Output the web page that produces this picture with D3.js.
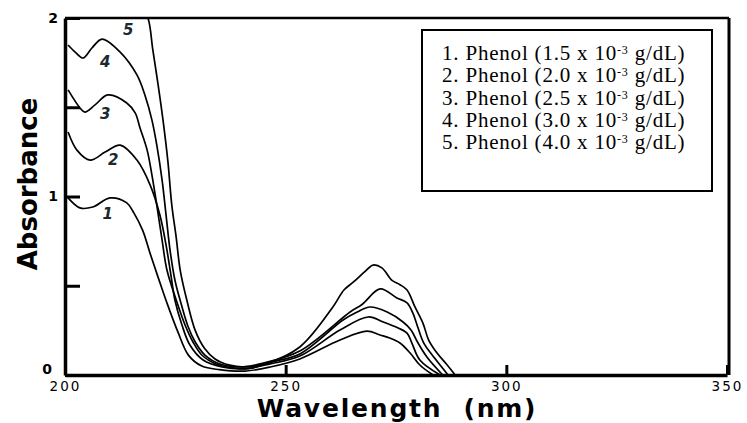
<!DOCTYPE html>
<html>
<head>
<meta charset="utf-8">
<script src="https://cdn.jsdelivr.net/npm/d3@7"></script>
<style>
  body { margin: 0; background: #fff; }
  svg { display: block; }
</style>
</head>
<body>
<svg id="chart"></svg>
<script>
// UV spectra of phenol at five concentrations
// each curve is [wavelength nm, absorbance]

const curve1 = [
  [200.7, 0.992], [203.4, 0.936], [206.3, 0.941], [210.2, 0.992], [214.0, 0.964],
  [215.6, 0.908], [217.6, 0.81], [219.3, 0.68], [221.2, 0.54], [223.3, 0.39],
  [225.6, 0.24], [228.0, 0.11], [231.0, 0.05], [235.0, 0.03], [240.8, 0.022],
  [246.5, 0.045], [253.2, 0.090], [262.3, 0.196], [268.4, 0.246], [271.4, 0.224],
  [273.6, 0.207], [275.9, 0.179], [278.2, 0.123], [280.4, 0.056], [283.4, 0]
];
const curve2 = [
  [200.7, 1.361], [202.7, 1.26], [205.7, 1.204], [209.1, 1.249], [212.5, 1.288],
  [216.3, 1.204], [219.3, 1.064], [221.5, 0.896], [222.9, 0.728], [224.0, 0.56],
  [224.9, 0.42], [226.5, 0.28], [228.3, 0.168], [231.3, 0.084], [235.6, 0.045],
  [240.3, 0.034], [246.5, 0.062], [253.2, 0.106], [262.3, 0.252], [268.7, 0.325],
  [272.1, 0.297], [275.5, 0.263], [277.5, 0.235], [278.6, 0.179], [280.4, 0.084],
  [285.0, 0]
];
const curve3 = [
  [200.7, 1.597], [203.4, 1.496], [204.5, 1.473], [206.8, 1.513], [209.7, 1.569],
  [214.0, 1.524], [215.9, 1.468], [217.0, 1.384], [218.6, 1.261], [219.7, 1.12],
  [220.8, 0.952], [222.0, 0.756], [223.1, 0.588], [225.2, 0.42], [227.2, 0.28],
  [229.0, 0.185], [231.0, 0.112], [234.2, 0.062], [238.5, 0.039], [242.4, 0.039],
  [246.9, 0.073], [253.2, 0.118], [263.0, 0.308], [266.2, 0.353], [269.1, 0.381],
  [273.0, 0.353], [276.6, 0.297], [278.4, 0.252], [280.0, 0.179], [282.0, 0.101],
  [285.6, 0]
];
const curve4 = [
  [200.7, 1.849], [202.3, 1.809], [204.1, 1.776], [206.1, 1.832], [208.4, 1.882],
  [212.5, 1.809], [216.3, 1.681], [218.1, 1.569], [219.7, 1.428], [220.8, 1.288],
  [222.0, 1.092], [222.9, 0.896], [223.8, 0.70], [224.9, 0.532], [226.3, 0.40],
  [227.9, 0.27], [229.5, 0.185], [231.7, 0.112], [235.1, 0.062], [239.7, 0.045],
  [244.2, 0.062], [253.2, 0.134], [264.6, 0.353], [267.3, 0.395], [271.4, 0.482],
  [275.2, 0.432], [277.5, 0.404], [278.8, 0.348], [280.0, 0.263], [281.3, 0.179],
  [283.2, 0.112], [286.8, 0]
];
const curve5 = [
  [200, 2.4], [212, 2.25], [217, 2.08], [218.8, 2.0], [219.9, 1.821], [221.1, 1.625],
  [222.2, 1.429], [223.3, 1.2], [224.2, 0.952], [225.2, 0.77], [226.1, 0.588],
  [227.6, 0.42], [229.5, 0.25], [231.6, 0.15], [234.0, 0.09], [237.3, 0.055],
  [240.8, 0.045], [245.3, 0.062], [253.2, 0.157], [260.7, 0.381], [263.2, 0.476],
  [265.3, 0.52], [268.0, 0.580], [269.8, 0.616], [271.8, 0.60], [274.1, 0.530],
  [275.9, 0.506], [277.5, 0.476], [279.3, 0.381], [281.1, 0.291], [282.4, 0.196],
  [284.3, 0.123], [286.6, 0.056], [288.4, 0]
];

const curves = [curve1, curve2, curve3, curve4, curve5];
const curveLabels = ["1", "2", "3", "4", "5"];
// where the hand-written numbers sit, [nm, absorbance]
const labelSpots = [[209.7, 0.9], [210.9, 1.2], [209.1, 1.46], [209.1, 1.75], [214.3, 1.93]];

const concentrations = ["1.5", "2.0", "2.5", "3.0", "4.0"];
const xTicks = [200, 250, 300, 350];
const yTicks = [0, 0.5, 1, 1.5, 2];

const width = 747;
const height = 423;

const svg = d3.select("#chart")
    .attr("width", width)
    .attr("height", height);

const x = d3.scaleLinear().domain([200, 350]).range([65, 727]);
const y = d3.scaleLinear().domain([0, 2]).range([375, 18]);

svg.append("clipPath").attr("id", "plot")
  .append("rect")
    .attr("x", x(200))
    .attr("y", y(2))
    .attr("width", x(350) - x(200))
    .attr("height", y(0) - y(2));

// spectra
const line = d3.line()
    .x(d => x(d[0]))
    .y(d => y(d[1]))
    .curve(d3.curveCatmullRom.alpha(0.5));

svg.append("g")
    .attr("clip-path", "url(#plot)")
  .selectAll("path")
  .data(curves)
  .enter().append("path")
    .attr("d", line)
    .attr("fill", "none")
    .attr("stroke", "#000")
    .attr("stroke-width", 1.7)
    .attr("stroke-linejoin", "round");

// frame: top and right
svg.append("line")
    .attr("x1", x(200)).attr("x2", x(350) + 2)
    .attr("y1", y(2)).attr("y2", y(2))
    .attr("stroke", "#000").attr("stroke-width", 2.5);
svg.append("line")
    .attr("x1", x(350) + 2).attr("x2", x(350) + 2)
    .attr("y1", y(2)).attr("y2", y(0))
    .attr("stroke", "#000").attr("stroke-width", 3);

// axes
const xAxis = svg.append("g")
    .attr("transform", `translate(0,${y(0)})`)
    .call(d3.axisBottom(x).tickValues(xTicks).tickSizeInner(-10).tickSizeOuter(0).tickPadding(6));

const yAxis = svg.append("g")
    .attr("transform", `translate(${x(200)},0)`)
    .call(d3.axisLeft(y).tickValues(yTicks).tickSizeInner(-15).tickSizeOuter(0).tickPadding(7)
      .tickFormat(d => d % 1 === 0 ? d : ""));

[xAxis, yAxis].forEach(g => {
  g.select(".domain").attr("stroke", "#000").attr("stroke-width", 3.5);
  g.selectAll(".tick line").attr("stroke", "#000").attr("stroke-width", 3);
  g.selectAll(".tick text")
    .attr("fill", "#000")
    .style("font-family", "'DejaVu Sans', sans-serif")
    .style("font-size", "13.5px");
});
xAxis.selectAll(".tick text").style("letter-spacing", "2px");
yAxis.selectAll(".tick text").style("font-weight", "bold").style("font-size", "14px");
// the zero sits a little higher and further out, clear of "200"
yAxis.selectAll(".tick").filter(d => d === 0).select("text")
    .attr("dx", -6).attr("dy", "-0.1em");

// axis titles
svg.append("text")
    .attr("x", 397)
    .attr("y", 417)
    .attr("text-anchor", "middle")
    .style("font-family", "'DejaVu Sans', sans-serif")
    .style("font-weight", "bold")
    .style("font-size", "25px")
    .style("letter-spacing", "1.8px")
    .attr("xml:space", "preserve")
    .text("Wavelength  (nm)");

svg.append("text")
    .attr("transform", "translate(37,184) rotate(-90)")
    .attr("text-anchor", "middle")
    .style("font-family", "'DejaVu Sans', sans-serif")
    .style("font-weight", "bold")
    .style("font-size", "26px")
    .text("Absorbance");

// curve numbers
svg.append("g")
  .selectAll("text")
  .data(curveLabels)
  .enter().append("text")
    .attr("x", (d, i) => x(labelSpots[i][0]))
    .attr("y", (d, i) => y(labelSpots[i][1]))
    .attr("text-anchor", "middle")
    .attr("dominant-baseline", "middle")
    .attr("fill", "#1a2a30")
    .style("font-family", "'DejaVu Sans', sans-serif")
    .style("font-weight", "bold")
    .style("font-style", "italic")
    .style("font-size", "15px")
    .text(d => d);

// legend
const legend = svg.append("g");
legend.append("rect")
    .attr("x", 422).attr("y", 30)
    .attr("width", 290).attr("height", 161)
    .attr("fill", "#fff")
    .attr("stroke", "#000")
    .attr("stroke-width", 2);

const legendText = legend.selectAll("text")
  .data(concentrations)
  .enter().append("text")
    .attr("x", 442)
    .attr("y", (d, i) => 60 + i * 22.3)
    .style("font-family", "'Liberation Serif', 'DejaVu Serif', serif")
    .style("font-size", "21px")
    .style("letter-spacing", "0.8px")
    .attr("fill", "#000");

legendText.append("tspan").text((d, i) => `${i + 1}. Phenol (${d} x 10`);
legendText.append("tspan")
    .attr("dy", -6)
    .style("font-size", "12px")
    .text("-3");
legendText.append("tspan")
    .attr("dy", 6)
    .text(" g/dL)");
</script>
</body>
</html>
